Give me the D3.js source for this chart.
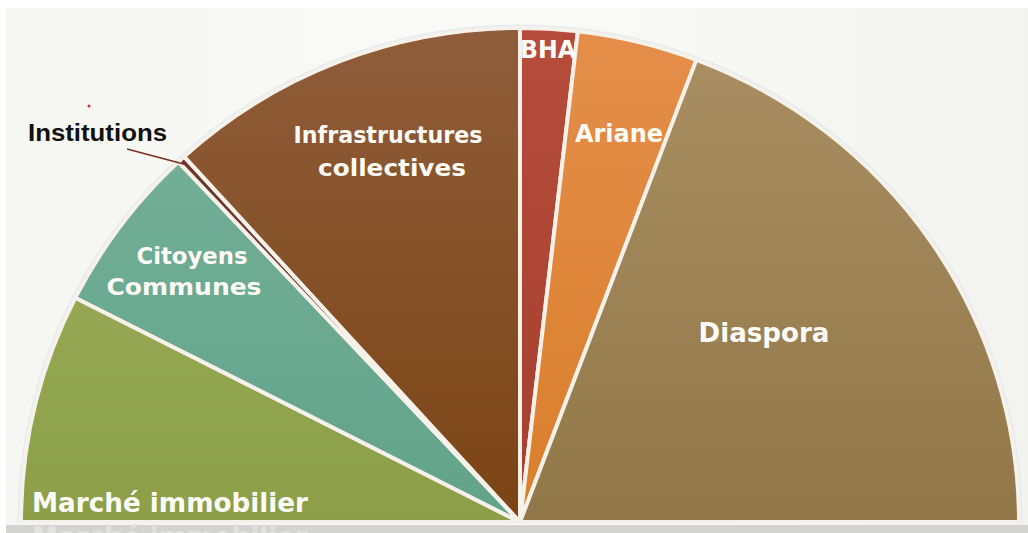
<!DOCTYPE html>
<html>
<head>
<meta charset="utf-8">
<script src="https://cdn.jsdelivr.net/npm/d3@7"></script>
<style>
  html, body { margin: 0; padding: 0; background: #ffffff; overflow: hidden; }
</style>
</head>
<body>
<svg id="chart" width="1028" height="533"></svg>
<script>
// categories and shares (percent of the half disc)
var categories = ["Marché immobilier", "Citoyens Communes", "Institutions", "Infrastructures collectives", "BHA", "Ariane", "Diaspora"];
var values = [15.0, 11.0, 0.5, 23.5, 3.7, 7.8, 38.5];
var topColors = ["#a1b15e", "#79b29c", "#6e3b31", "#905d3b", "#b54c3c", "#e48e4a", "#a98f63"];
var bottomColors = ["#8c9f48", "#62a38a", "#652f26", "#7a4414", "#a63f2f", "#d97e2b", "#927748"];

var svg = d3.select("#chart");
var W = 1028, H = 533;
var cx = 520, cy = 522, R = 499;

var defs = svg.append("defs");

// background
var bg = defs.append("linearGradient").attr("id", "bg").attr("x1", 0).attr("x2", 1).attr("y1", 0).attr("y2", 0);
bg.append("stop").attr("offset", "0%").attr("stop-color", "#f6f7f2");
bg.append("stop").attr("offset", "50%").attr("stop-color", "#fafaf6");
bg.append("stop").attr("offset", "100%").attr("stop-color", "#f3f4ef");
svg.append("rect").attr("x", 0).attr("y", 0).attr("width", W).attr("height", H).attr("fill", "#ffffff");
svg.append("rect").attr("x", 6).attr("y", 8).attr("width", W - 6).attr("height", 517).attr("fill", "url(#bg)");
svg.append("rect").attr("x", 6).attr("y", 525).attr("width", W - 6).attr("height", 8).attr("fill", "#d3d3d1");

// faint copy of the bottom label showing under the frame
svg.append("text")
  .attr("x", 32).attr("y", 546)
  .attr("font-family", "DejaVu Sans, sans-serif")
  .attr("font-weight", "bold")
  .attr("font-size", 26)
  .attr("textLength", 276)
  .attr("lengthAdjust", "spacingAndGlyphs")
  .attr("fill", "#e2e2e0")
  .text(categories[0]);

// slice gradients
categories.forEach(function(c, i) {
  var g = defs.append("linearGradient").attr("id", "grad" + i)
    .attr("gradientUnits", "userSpaceOnUse")
    .attr("x1", 0).attr("x2", 0).attr("y1", -R).attr("y2", 0);
  g.append("stop").attr("offset", "0%").attr("stop-color", topColors[i]);
  g.append("stop").attr("offset", "100%").attr("stop-color", bottomColors[i]);
});

var pie = d3.pie()
  .sort(null)
  .startAngle(-Math.PI / 2)
  .endAngle(Math.PI / 2)
  .value(function(d) { return d; });

var arcs = pie(values);

var arc = d3.arc().innerRadius(0).outerRadius(R);

// soft halo around the disc
var halo = svg.append("g").attr("transform", "translate(" + cx + "," + cy + ") scale(1,0.99)");
halo.append("path")
  .attr("d", d3.arc().innerRadius(0).outerRadius(R + 2).startAngle(-Math.PI / 2).endAngle(Math.PI / 2)())
  .attr("fill", "none")
  .attr("stroke", "#e4ebf2")
  .attr("stroke-width", 3);

var g = svg.append("g").attr("transform", "translate(" + cx + "," + cy + ") scale(1,0.99)");

g.selectAll("path.slice")
  .data(arcs)
  .enter()
  .append("path")
  .attr("class", "slice")
  .attr("d", arc)
  .attr("fill", function(d, i) { return "url(#grad" + i + ")"; })
  .attr("stroke", "#f6f1e9")
  .attr("stroke-width", 4)
  .attr("stroke-linejoin", "round");

// bottom edge line
svg.append("line")
  .attr("x1", cx - R).attr("x2", cx + R)
  .attr("y1", cy + 1).attr("y2", cy + 1)
  .attr("stroke", "#f2f2f0").attr("stroke-width", 2);

// labels (w = measured text width in the reference)
var labels = [
  {lines: ["Infrastructures", "collectives"], w: [189, 148], x: 388, y: 143, size: 23, dy: 33},
  {lines: ["BHA"], w: [56], x: 548, y: 58, size: 24, dy: 0},
  {lines: ["Ariane"], w: [88], x: 619, y: 142, size: 24, dy: 0},
  {lines: ["Diaspora"], w: [131], x: 764, y: 342, size: 27, dy: 0},
  {lines: ["Citoyens", "Communes"], w: [111, 155], x: 192, y: 264, size: 23, dy: 31},
  {lines: ["Marché immobilier"], w: [276], x: 32, y: 512, size: 26, dy: 0, anchor: "start"}
];

labels.forEach(function(l) {
  var t = svg.append("text")
    .attr("font-family", "DejaVu Sans, sans-serif")
    .attr("font-weight", "bold")
    .attr("font-size", l.size)
    .attr("fill", "#fdfbf6")
    .attr("text-anchor", l.anchor || "middle");
  l.lines.forEach(function(s, k) {
    t.append("tspan")
      .attr("x", l.x + (k === 1 && l.lines[0] === "Citoyens" ? -8 : 0) + (k === 1 && l.lines[0] === "Infrastructures" ? 4 : 0))
      .attr("y", l.y + k * l.dy)
      .attr("textLength", l.w[k])
      .attr("lengthAdjust", "spacingAndGlyphs")
      .text(s);
  });
});

// Institutions callout
var inst = arcs[2];
var mid = (inst.startAngle + inst.endAngle) / 2;
var ex = cx + Math.sin(mid) * R * 0.985;
var ey = cy - Math.cos(mid) * R * 0.99 * 0.985;
svg.append("line")
  .attr("x1", 127).attr("y1", 149)
  .attr("x2", ex).attr("y2", ey)
  .attr("stroke", "#7a2e24").attr("stroke-width", 1.5);
svg.append("text")
  .attr("x", 28).attr("y", 141)
  .attr("font-family", "Liberation Sans, Arial, sans-serif")
  .attr("font-weight", "bold")
  .attr("font-size", 23)
  .attr("textLength", 139)
  .attr("lengthAdjust", "spacingAndGlyphs")
  .attr("fill", "#111111")
  .text(categories[2]);

svg.append("circle").attr("cx", 89).attr("cy", 106).attr("r", 1.5).attr("fill", "#d0303a");
</script>
</body>
</html>
